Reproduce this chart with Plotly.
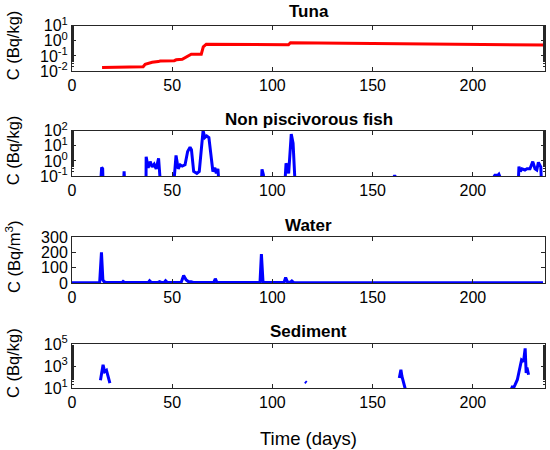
import plotly.graph_objects as go

# Tuna (Bq/kg)
tuna_days = [15, 25, 25.5, 35.5, 36.5, 39, 40, 43, 44, 51, 52, 55, 56.5, 58.5, 59.5,
             64.5, 65.5, 67, 108, 109, 154, 200, 236]
tuna_conc = [0.017, 0.017, 0.019, 0.019, 0.028, 0.034, 0.038, 0.042, 0.046, 0.048, 0.055,
             0.06, 0.075, 0.11, 0.13, 0.13, 0.4, 0.6, 0.55, 0.75, 0.67, 0.6, 0.53]

# Non piscivorous fish (Bq/kg), None = gap
fish_days = [14.0, 14.8, 15.3, 15.6, None,
             25.5, 26.0, 26.5, None,
             36.9, 37.0, 38.0, 39.0, 40.0, 41.0, 42.0, 43.2, 44.4, None,
             50.5, 51.9, 53.0, 54.0, 55.0, 56.4, 57.7, 58.9, 59.6, 60.7, 62.3, 63.5,
             65.4, 66.3, 67.2, 68.3, 70.3, 71.3, 72.0, 72.8, 73.6, None,
             94.3, 94.8, 95.5, 96.0, None,
             106.0, 106.8, 107.5, 108.1, 109.4, 110.3, 111.5, None,
             160.5, 161.0, 161.5, None,
             210.5, 211.0, 212.5, 213.0, 213.5, None,
             222.5, 223.0, 223.7, 224.5, 226.0, 227.0, 228.5, 229.9, 231.0, 231.9,
             232.7, 233.9, 234.4]
fish_conc = [0.01, 0.38, 0.3, 0.01, None,
             0.01, 0.2, 0.01, None,
             0.01, 1.9, 0.35, 0.9, 0.4, 0.6, 0.3, 1.5, 0.01, None,
             0.01, 2.3, 0.3, 0.55, 0.45, 0.55, 4.2, 8.0, 5.5, 0.2, 0.15, 0.2,
             100, 35, 45, 35, 0.2, 0.35, 0.15, 0.3, 0.01, None,
             0.01, 0.28, 0.12, 0.01, None,
             0.01, 0.7, 0.35, 0.15, 60, 15, 0.01, None,
             0.08, 0.11, 0.08, None,
             0.09, 0.11, 0.11, 0.13, 0.09, None,
             0.01, 0.42, 0.2, 0.3, 0.25, 0.3, 0.3, 0.9, 0.3, 0.25,
             0.8, 0.4, 0.01]

# Water (Bq/m3)
water_days = [0, 13.8, 14.7, 15.4, 16, 17, 25, 25.5, 26.2, 29.2, 29.7, 30.3, 38, 38.7, 39.5,
              43, 43.7, 44.5, 46, 46.7, 47.5, 50.3, 50.8, 51.5, 54.5, 55.7, 57, 58, 59.4,
              60.5, 70.7, 71.5, 72.3, 93.8, 94.5, 95.3, 96, 105.8, 106.6, 107.5, 109,
              109.7, 110.5, 224, 225, 226, 235]
water_conc = [2, 2, 200, 20, 8, 4, 3, 10, 3, 3, 6, 3, 3, 15, 4,
              4, 9, 4, 4, 15, 5, 4, 6, 4, 5, 48, 20, 10, 8,
              3, 3, 28, 4, 3, 188, 8, 3, 3, 36, 6, 5,
              13, 4, 3, 7, 3, 2]

# Sediment (Bq/kg), None = gap
sed_days = [14.2, 15.5, 16.3, 17.2, 18.9, None,
            116.3, 117.0, None,
            163.3, 164.1, 164.6, 166.1, 166.3, None,
            219.0, 220.3, 221.1, 222.2, 223.6, 224.3, 225.3, 226.1, 226.6, 227.0, 227.8]
sed_conc = [50, 1300, 300, 400, 28, None,
            38, 30, None,
            80, 460, 120, 10, 8, None,
            14, 10, 20, 57, 900, 3500, 2500, 40000, 230, 700, 160]

panel_titles = ['Tuna', 'Non piscivorous fish', 'Water', 'Sediment']
ylabels = ['C (Bq/kg)', 'C (Bq/kg)', 'C (Bq/m<sup>3</sup>)', 'C (Bq/kg)']
x_ticks = [0, 50, 100, 150, 200]

font = 'Liberation Sans, Arial, sans-serif'
axcol = '#262626'


def pow_text(exps):
    return ['10<sup>%d</sup>' % e for e in exps]


fig = go.Figure()
fig.add_trace(go.Scatter(x=tuna_days, y=tuna_conc, mode='lines',
                         line=dict(color='#ff0000', width=3), xaxis='x', yaxis='y'))
fig.add_trace(go.Scatter(x=fish_days, y=fish_conc, mode='lines',
                         line=dict(color='#0000ff', width=3), xaxis='x2', yaxis='y2'))
fig.add_trace(go.Scatter(x=water_days, y=water_conc, mode='lines',
                         line=dict(color='#0000ff', width=3), xaxis='x3', yaxis='y3'))
fig.add_trace(go.Scatter(x=sed_days, y=sed_conc, mode='lines',
                         line=dict(color='#0000ff', width=3), xaxis='x4', yaxis='y4'))

W, H = 550.0, 450.0
L, R = 72, 5
# axes boxes (top, bottom) in pixels
boxes = [(25.7, 71), (130.7, 176), (237, 283), (344, 388)]
title_y = [12, 119, 225, 331]


def py(px):
    return 1 - px / H


def pxx(px):
    return (px - L) / (W - L - R)


common_x = dict(range=[0, 236], tickvals=x_ticks, ticks='inside', ticklen=4,
                tickcolor=axcol, showline=True, linecolor=axcol, linewidth=1,
                mirror='ticks', showgrid=False, zeroline=False, automargin=False,
                tickfont=dict(family=font, size=16, color='#000'))
common_y = dict(ticks='inside', ticklen=4, tickcolor=axcol, showline=True,
                linecolor=axcol, linewidth=1, mirror='ticks', showgrid=False,
                zeroline=False, automargin=False,
                tickfont=dict(family=font, size=16, color='#000'))

minor_log = dict(ticks='inside', ticklen=2, tickcolor=axcol, showgrid=False)
y_specs = [
    dict(type='log', range=[-2, 1], tickvals=[10, 1, 0.1, 0.01],
         ticktext=pow_text([1, 0, -1, -2]), minor=minor_log),
    dict(type='log', range=[-1, 2], tickvals=[100, 10, 1, 0.1],
         ticktext=pow_text([2, 1, 0, -1]), minor=minor_log),
    dict(type='linear', range=[0, 300], tickvals=[0, 100, 200, 300]),
    dict(type='log', range=[1, 5], tickvals=[1e5, 1e3, 10],
         ticktext=pow_text([5, 3, 1]), minor=minor_log),
]

layout = dict(template='none', width=W, height=H, showlegend=False,
              paper_bgcolor='white', plot_bgcolor='white',
              margin=dict(l=L, r=R, t=0, b=0, pad=0))
annotations = []
for i, (top, bot) in enumerate(boxes):
    sfx = '' if i == 0 else str(i + 1)
    layout['xaxis' + sfx] = dict(common_x, domain=[0, 1], anchor='y' + sfx)
    layout['yaxis' + sfx] = dict(common_y, domain=[py(bot), py(top)], anchor='x' + sfx,
                                 **y_specs[i])
    annotations.append(dict(text='<b>%s</b>' % panel_titles[i], xref='paper', yref='paper',
                            x=0.5, y=py(title_y[i]), xanchor='center', yanchor='middle',
                            showarrow=False, font=dict(family=font, size=17, color='#000')))
    annotations.append(dict(text=ylabels[i], xref='paper', yref='paper', textangle=-90,
                            x=pxx(13), y=py((top + bot) / 2 - 3),
                            xanchor='center', yanchor='middle', showarrow=False,
                            font=dict(family=font, size=16.5, color='#000')))

annotations.append(dict(text='Time (days)', xref='paper', yref='paper', x=0.5,
                        y=py(438), xanchor='center', yanchor='middle', showarrow=False,
                        font=dict(family=font, size=18.5, color='#000')))
layout['annotations'] = annotations
fig.update_layout(**layout)

# drop the default 8px body margin so the figure fills the window exactly
fig.write_html('out.html', config={'displayModeBar': False},
               post_script="document.body.style.margin='0';")
